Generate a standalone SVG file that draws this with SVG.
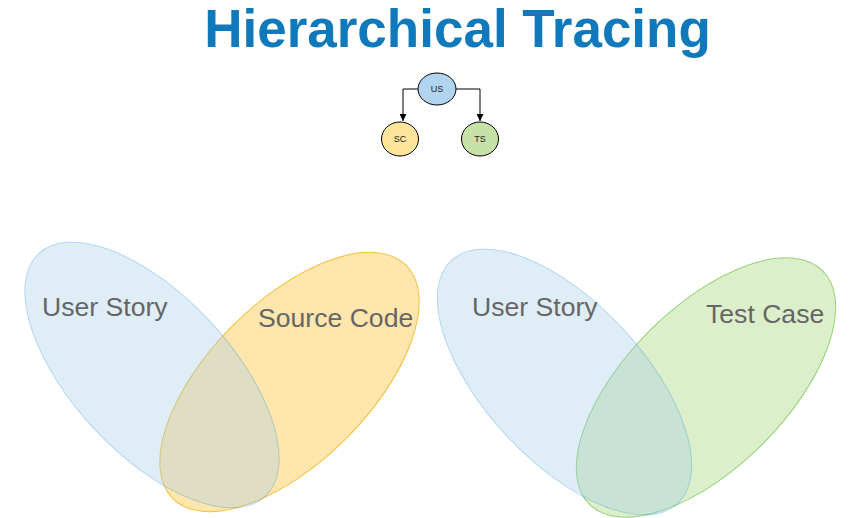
<svg xmlns="http://www.w3.org/2000/svg" width="855" height="518" viewBox="0 0 855 518">
<style>
.title{font-family:"Liberation Sans",Arial,sans-serif;font-weight:bold;font-size:53px;fill:#1079BB}
.lbl{font-family:"Liberation Sans",Arial,sans-serif;font-size:26.6px;fill:#666666}
.small{font-family:"Liberation Sans",Arial,sans-serif;font-size:9px;fill:#222222}
.us{fill:#A4CEEB;stroke:#2A8FD8;stroke-width:1;opacity:0.35}
.sc{fill:#FFE6AD;stroke:#F4C03E;stroke-width:1}
.tc{fill:#DCEFCB;stroke:#97D077;stroke-width:1}
.edge{fill:none;stroke:#000000;stroke-width:1}
</style>
<defs>
<marker id="arr" viewBox="0 0 10 10" refX="10" refY="5" markerWidth="7" markerHeight="7" markerUnits="userSpaceOnUse" orient="auto">
<path d="M0,0 L10,5 L0,10 z" fill="#000000"/>
</marker>
</defs>
<rect width="855" height="518" fill="#ffffff"/>
<text class="title" x="457.5" y="47" text-anchor="middle">Hierarchical Tracing</text>

<g id="connectors">
<path class="edge" d="M418,89 H403 V121" marker-end="url(#arr)"/>
<path class="edge" d="M456,89 H480 V121" marker-end="url(#arr)"/>
</g>
<g id="node-us">
<ellipse cx="437" cy="89" rx="19" ry="16" fill="#B1D4F0" stroke="#000000" stroke-width="1"/>
<text class="small" x="437" y="92" text-anchor="middle">US</text>
</g>
<g id="node-sc">
<ellipse cx="400" cy="139" rx="18.5" ry="17" fill="#FFE599" stroke="#000000" stroke-width="1"/>
<text class="small" x="400" y="142" text-anchor="middle">SC</text>
</g>
<g id="node-ts">
<ellipse cx="480" cy="139" rx="18.5" ry="17" fill="#C5E3A7" stroke="#000000" stroke-width="1"/>
<text class="small" x="480" y="142" text-anchor="middle">TS</text>
</g>

<g id="venn-source-code">
<ellipse class="sc" cx="0" cy="0" rx="165" ry="80" transform="translate(289.5,382) rotate(-45)"/>
</g>
<g id="venn-user-story-1">
<ellipse class="us" cx="0" cy="0" rx="166" ry="79" transform="translate(152,375) rotate(47)"/>
</g>
<g id="venn-test-case">
<ellipse class="tc" cx="0" cy="0" rx="165" ry="80" transform="translate(706,387.5) rotate(-45)"/>
</g>
<g id="venn-user-story-2">
<ellipse class="us" cx="0" cy="0" rx="166" ry="79" transform="translate(564.5,382) rotate(47)"/>
</g>
<text class="lbl" x="42" y="316">User Story</text>
<text class="lbl" x="258" y="327">Source Code</text>
<text class="lbl" x="472" y="316">User Story</text>
<text class="lbl" x="706" y="323">Test Case</text>
</svg>
